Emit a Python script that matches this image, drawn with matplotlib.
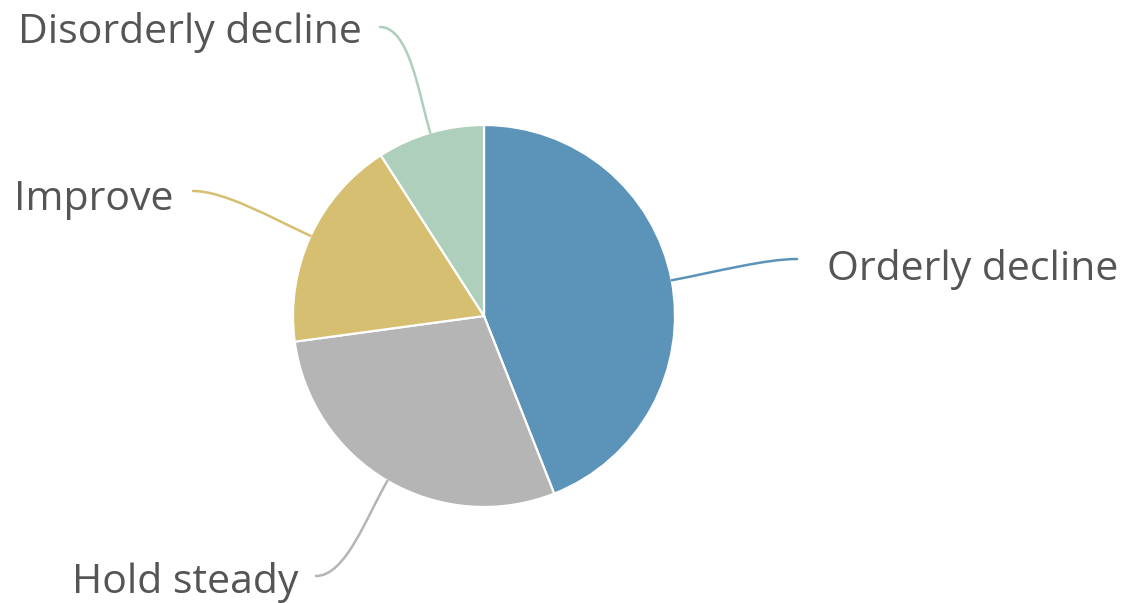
import numpy as np
import matplotlib
matplotlib.use("Agg")
import matplotlib.pyplot as plt
from matplotlib.path import Path
from matplotlib.patches import PathPatch

categories = ["Orderly decline", "Hold steady", "Improve", "Disorderly decline"]
shares = [44.1, 28.9, 18.1, 9.1]
colors = ["#5b93b9", "#b5b5b5", "#d6bf71", "#adcfbc"]

W, H = 1125, 603
CX, CY, R = 484, H - 316, 191

# label anchor (end of connector) and text placement, in pixels from top-left
label_pts = {
    "Orderly decline": (797, 259),
    "Hold steady": (316, 576),
    "Improve": (193, 191),
    "Disorderly decline": (380, 27),
}
text_pos = {
    "Orderly decline": (827, 280, "left"),
    "Hold steady": (298, 593, "right"),
    "Improve": (174, 210, "right"),
    "Disorderly decline": (362, 43, "right"),
}

plt.rcParams["font.family"] = ["Open Sans", "DejaVu Sans"]

fig = plt.figure(figsize=(W / 100, H / 100), dpi=100)
ax = fig.add_axes([0, 0, 1, 1])

wedges, _ = ax.pie(shares, colors=colors, startangle=90, counterclock=False,
                   center=(CX, CY), radius=R,
                   wedgeprops=dict(edgecolor="white", linewidth=1.6))

ax.set_xlim(0, W)
ax.set_ylim(0, H)
ax.set_aspect("equal")
ax.axis("off")

for w, name, col in zip(wedges, categories, colors):
    mid = np.deg2rad((w.theta1 + w.theta2) / 2)
    dx, dy = np.cos(mid), np.sin(mid)
    ex, ey = CX + R * dx, CY + R * dy
    lx, ly = label_pts[name]
    ly = H - ly
    side = 1 if lx > ex else -1
    d = np.hypot(lx - ex, ly - ey)
    p1 = (ex + dx * d * 0.35, ey + dy * d * 0.35)
    p2 = (lx - side * d * 0.25, ly)
    path = Path([(ex, ey), p1, p2, (lx, ly)],
                [Path.MOVETO, Path.CURVE4, Path.CURVE4, Path.CURVE4])
    ax.add_patch(PathPatch(path, facecolor="none", edgecolor=col, lw=1.8,
                           capstyle="round"))
    tx, ty, ha = text_pos[name]
    ax.text(tx, H - ty, name, ha=ha, va="baseline", fontsize=29.5,
            color="#555555")

fig.savefig("out.png", dpi=100, facecolor="white")
